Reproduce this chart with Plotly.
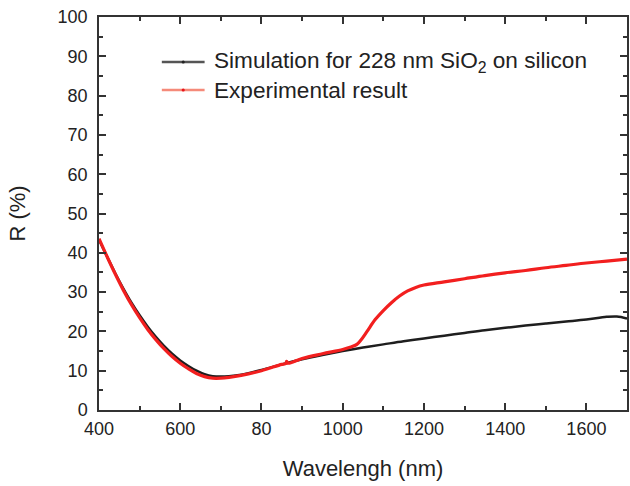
import plotly.graph_objects as go

# Simulation for 228 nm SiO2 on silicon
sim_wl = [400, 420, 440, 460, 480, 500, 520, 540, 560, 580, 600, 620, 640, 660, 680, 700, 720,
          750, 800, 850, 900, 950, 1000, 1050, 1100, 1150, 1200, 1250, 1300, 1350, 1400, 1450,
          1500, 1550, 1600, 1650, 1675, 1700]
sim_r = [43.3, 39.0, 34.8, 30.9, 27.3, 24.1, 21.2, 18.6, 16.3, 14.3, 12.6, 11.2, 10.0, 9.1, 8.6,
         8.5, 8.6, 9.0, 10.2, 11.6, 12.9, 14.0, 15.0, 15.9, 16.7, 17.5, 18.2, 18.9, 19.6, 20.3,
         20.9, 21.5, 22.0, 22.5, 23.0, 23.7, 23.8, 23.3]

# Experimental result
exp_wl = [400, 420, 440, 460, 480, 500, 520, 540, 560, 580, 600, 620, 640, 660, 680, 700, 720,
          750, 800, 850, 860, 862, 865, 900, 950, 1000, 1020, 1035, 1045, 1060, 1080, 1100, 1120,
          1140, 1160, 1180, 1200, 1250, 1300, 1350, 1400, 1450, 1500, 1550, 1600, 1650, 1700]
exp_r = [43.6, 39.0, 34.6, 30.5, 26.8, 23.5, 20.5, 17.9, 15.6, 13.6, 11.9, 10.5, 9.3, 8.5, 8.1,
         8.1, 8.3, 8.8, 10.0, 11.6, 11.8, 12.4, 11.9, 13.1, 14.3, 15.4, 16.0, 16.7, 17.8, 20.0,
         23.0, 25.3, 27.3, 29.0, 30.3, 31.2, 31.8, 32.6, 33.4, 34.2, 34.9, 35.5, 36.2, 36.8,
         37.4, 37.9, 38.4]

x_ticks = [400, 600, 800, 1000, 1200, 1400, 1600]
x_ticktext = ["400", "600", "80", "1000", "1200", "1400", "1600"]
y_ticks = [0, 10, 20, 30, 40, 50, 60, 70, 80, 90, 100]

series_names = ["Simulation for 228 nm SiO<sub>2</sub> on silicon", "Experimental result"]

FONT = "Liberation Sans, Arial, sans-serif"
AX = "#333333"
TXT = "#222222"

fig = go.Figure()
fig.add_trace(go.Scatter(x=sim_wl, y=sim_r, mode="lines", line=dict(color="#1e1e1e", width=2.5, shape="spline"),
                         showlegend=False))
fig.add_trace(go.Scatter(x=exp_wl, y=exp_r, mode="lines", line=dict(color="#f21f1f", width=3.2, shape="spline"),
                         showlegend=False))

axis_common = dict(showline=True, linecolor=AX, linewidth=1.5, mirror="ticks", ticks="inside",
                   ticklen=7, tickwidth=1.5, tickcolor=AX, showgrid=False, zeroline=False,
                   tickfont=dict(family=FONT, size=18, color=TXT),
                   minor=dict(ticks="inside", ticklen=4, tickwidth=1.5, tickcolor=AX))

fig.update_xaxes(range=[400, 1700], tickmode="array", tickvals=x_ticks, ticktext=x_ticktext,
                 minor_dtick=100, minor_tick0=400, ticklabelstandoff=2,
                 title=dict(text="Wavelengh (nm)", font=dict(family=FONT, size=22, color=TXT), standoff=22),
                 **axis_common)
fig.update_yaxes(range=[0, 100], tickmode="array", tickvals=y_ticks,
                 minor_dtick=5, minor_tick0=0, ticklabelstandoff=6,
                 title=dict(text="R (%)", font=dict(family=FONT, size=22, color=TXT), standoff=26),
                 **axis_common)

# manual legend
leg_rows = [(0.8855, "#555555", "#222222"), (0.8142, "#f58a7a", "#e8141a")]
for (yy, lc, dc), name in zip(leg_rows, series_names):
    fig.add_shape(type="line", xref="paper", yref="paper", x0=0.119, x1=0.200, y0=yy, y1=yy,
                  line=dict(color=lc, width=2.5))
    fig.add_shape(type="circle", xref="paper", yref="paper", x0=0.1565, x1=0.1625, y0=yy - 0.004, y1=yy + 0.004,
                  line=dict(color=dc, width=0), fillcolor=dc)
    fig.add_annotation(xref="paper", yref="paper", x=0.214, y=yy, xanchor="left", yanchor="middle",
                       text=name, showarrow=False, font=dict(family=FONT, size=22.6, color=TXT))

fig.update_layout(width=630, height=486, margin=dict(l=99, r=1, t=17, b=76),
                  plot_bgcolor="white", paper_bgcolor="white", showlegend=False)

fig.write_html("out.html")
